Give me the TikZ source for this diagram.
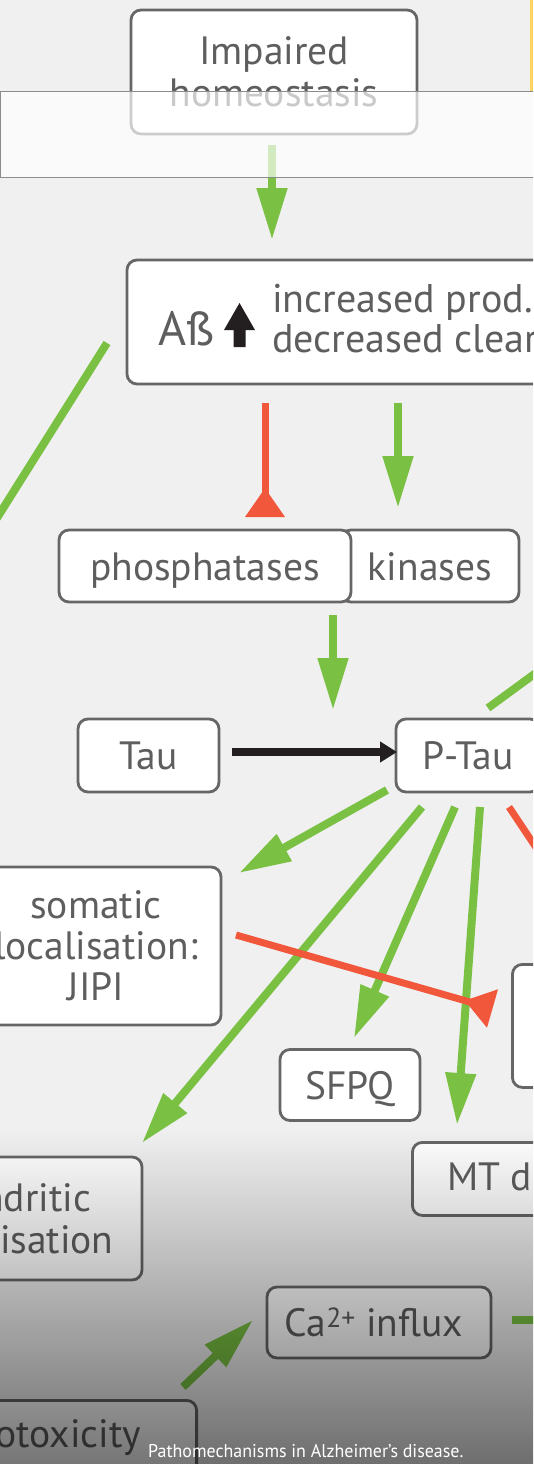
\documentclass[tikz,border=0pt]{standalone}
\usepackage{fontspec}
\setmainfont{PT Sans}
\usetikzlibrary{arrows.meta,fadings}
\definecolor{bg}{HTML}{F0F0F0}
\definecolor{bord}{HTML}{666666}
\definecolor{txt}{HTML}{5E5E5E}
\definecolor{grn}{HTML}{7AC143}
\definecolor{rd}{HTML}{F1573A}
\definecolor{blk}{HTML}{231F20}
\definecolor{yel}{HTML}{FCD462}
\definecolor{ovl}{HTML}{8C8C8C}
\tikzfading[name=fadebottom, top color=transparent!100, bottom color=transparent!0]
\tikzset{
  box/.style={draw=bord, line width=2.8pt, rounded corners=10pt, fill=white, text=txt,
    align=center, inner sep=0pt, font=\fontsize{39.5}{42}\selectfont},
  oneline/.style={text height=28pt, text depth=0pt},
  lbl/.style={text=txt, inner sep=0pt, font=\fontsize{39.5}{42}\selectfont},
  garrow/.style={draw=grn, line width=8pt, -{Triangle[length=52pt,width=29pt]}},
  gline/.style={draw=grn, line width=8pt},
  rline/.style={draw=rd, line width=7pt},
  rinh/.style={draw=rd, line width=7pt, -{Triangle[reversed,length=29pt,width=38pt]}},
  barrow/.style={draw=blk, line width=8pt, -{Triangle[length=17pt,width=20pt]}}
}
\begin{document}
\begin{tikzpicture}[x=1pt,y=-1pt]
\useasboundingbox (0,0) rectangle (533,1464);
\begin{scope}
\clip (0,0) rectangle (533,1464);
\fill[bg] (0,0) rectangle (533,1464);
\fill[yel] (530,0) rectangle (533,91);
% top box and its arrow, under the translucent band
\node[box, minimum width=286pt, minimum height=124pt] (imp) at (274,72) {Impaired\\homeostasis};
\coordinate (impout) at (272,145);
\coordinate (abin) at (272,240);
\draw[garrow] (impout) -- (abin);
\draw[draw=ovl, line width=1pt, fill=white, fill opacity=0.67] (0.5,91) rectangle (600,177);
% Abeta box
\node[box, minimum width=633pt, minimum height=124pt] (ab) at (443.5,322) {};
\node[lbl, anchor=base west, font=\fontsize{48}{52}\selectfont] (abl) at (158,345) {Aß};
\fill[blk] (239.5,303) -- (255,330) -- (245.5,330) -- (245.5,347) -- (233.5,347) -- (233.5,330) -- (224,330) -- cycle;
\node[lbl, anchor=base west, font=\fontsize{40}{44}\selectfont] (abr1) at (272,312) {increased prod.};
\node[lbl, anchor=base west, font=\fontsize{40}{44}\selectfont] (abr2) at (272,352) {decreased clearance};
% left diagonal line out of frame
\coordinate (abl1) at (107,343);
\coordinate (offl) at (-20,545);
\draw[gline] (abl1) -- (offl);
% kinases / phosphatases
\node[box, oneline, minimum width=178pt, minimum height=72pt] (kin) at (430,566) {kinases};
\node[box, oneline, minimum width=292pt, minimum height=72pt] (phos) at (205,566) {phosphatases};
\coordinate (abr) at (265,403);
\coordinate (phost) at (265,517);
\draw[rinh] (abr) -- (phost);
\coordinate (abg) at (398,403);
\coordinate (kint) at (398,508);
\draw[garrow] (abg) -- (kint);
\coordinate (kpout) at (333,615);
\coordinate (ptin) at (333,710);
\draw[garrow] (kpout) -- (ptin);
% Tau / P-Tau
\node[box, oneline, minimum width=141pt, minimum height=73pt] (tau) at (148.5,755.5) {Tau};
\node[box, oneline, minimum width=144pt, minimum height=73pt] (ptau) at (468,755.5) {P-Tau};
\coordinate (tauout) at (232,752);
\coordinate (ptauin) at (397,752);
\draw[barrow] (tauout) -- (ptauin);
\coordinate (ptr) at (488,708);
\coordinate (offr) at (574,645);
\draw[gline] (ptr) -- (offr);
% targets
\node[box, minimum width=250pt, minimum height=158pt, font=\fontsize{39.5}{41}\selectfont] (som) at (96,946) {somatic\\localisation:\\JIPI};
\node[box, minimum width=200pt, minimum height=123pt, anchor=north west] (rbox) at (511,963) {};
\node[box, oneline, minimum width=140pt, minimum height=71pt] (sfpq) at (350,1085) {SFPQ};
\node[box, minimum width=300pt, minimum height=73pt, anchor=north west] (mt) at (411,1141) {};
\node[lbl, anchor=base west] (mtl) at (447,1190) {MT d};
\node[box, minimum width=252pt, minimum height=123pt] (dend) at (16,1218.5) {dendritic\\localisation};
\node[box, oneline, minimum width=224pt, minimum height=71pt] (ca) at (379,1322.5) {\kern-10pt Ca\textsuperscript{2+} influx};
\node[box, minimum width=330pt, minimum height=100pt, anchor=north east] (exc) at (198,1399) {};
\node[lbl, anchor=base east] (excl) at (141,1447) {Excitotoxicity};
% arrows from P-Tau
\coordinate (p1) at (387,790);  \coordinate (somt) at (239,873);
\coordinate (p2) at (422,807);  \coordinate (dendt) at (142,1143);
\coordinate (p3) at (455,807);  \coordinate (sfpqt) at (354,1038);
\coordinate (p4) at (480,807);  \coordinate (mtt) at (457,1125);
\coordinate (p5) at (509,807);  \coordinate (offr2) at (549,867);
\draw[garrow] (p1) -- (somt);
\draw[garrow] (p2) -- (dendt);
\draw[garrow] (p3) -- (sfpqt);
\draw[garrow] (p4) -- (mtt);
\draw[rline] (p5) -- (offr2);
\coordinate (somr) at (236,935);
\coordinate (rboxl) at (492.5,1008.5);
\draw[rinh] (somr) -- (rboxl);
% bottom
\coordinate (excout) at (183,1387);
\coordinate (cain) at (253,1320);
\draw[garrow] (excout) -- (cain);
\coordinate (caout) at (512,1320);
\coordinate (offr3) at (560,1320);
\draw[gline] (caout) -- (offr3);
% darkening caption band
\fill[black, fill opacity=0.54, path fading=fadebottom] (-1,1130) rectangle (534,1465);
\node[anchor=base west, text=white, inner sep=0pt, font=\fontsize{18.5}{20}\selectfont] (cap) at (148,1457) {\scalebox{0.97}[1]{Pathomechanisms in Alzheimer's disease.}};
\end{scope}
\end{tikzpicture}
\end{document}
